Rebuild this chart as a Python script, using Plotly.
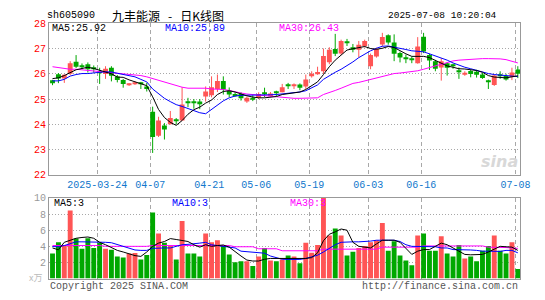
import plotly.graph_objects as go

# ---------------- data ----------------
dates = [
    "2025-03-12", "2025-03-13", "2025-03-14", "2025-03-17", "2025-03-18", "2025-03-19", "2025-03-20", "2025-03-21",
    "2025-03-24", "2025-03-25", "2025-03-26", "2025-03-27", "2025-03-28", "2025-03-31",
    "2025-04-01", "2025-04-02", "2025-04-03", "2025-04-07", "2025-04-08", "2025-04-09", "2025-04-10", "2025-04-11",
    "2025-04-14", "2025-04-15", "2025-04-16", "2025-04-17", "2025-04-18", "2025-04-21", "2025-04-22", "2025-04-23",
    "2025-04-24", "2025-04-25", "2025-04-28", "2025-04-29", "2025-04-30",
    "2025-05-06", "2025-05-07", "2025-05-08", "2025-05-09", "2025-05-12", "2025-05-13", "2025-05-14", "2025-05-15",
    "2025-05-16", "2025-05-19", "2025-05-20", "2025-05-21", "2025-05-22", "2025-05-23", "2025-05-26", "2025-05-27",
    "2025-05-28", "2025-05-29", "2025-05-30",
    "2025-06-03", "2025-06-04", "2025-06-05", "2025-06-06", "2025-06-09", "2025-06-10", "2025-06-11", "2025-06-12",
    "2025-06-13", "2025-06-16", "2025-06-17", "2025-06-18", "2025-06-19", "2025-06-20", "2025-06-23", "2025-06-24",
    "2025-06-25", "2025-06-26", "2025-06-27", "2025-06-30",
    "2025-07-01", "2025-07-02", "2025-07-03", "2025-07-04", "2025-07-07", "2025-07-08",
]

open_ = [25.74, 25.98, 25.81, 26.00, 26.48, 26.28, 26.38, 26.22, 26.05, 25.99,
         26.24, 25.89, 25.75, 25.56, 25.60, 25.64, 25.50, 24.50, 23.55, 23.95,
         24.00, 24.17, 24.15, 24.88, 24.88, 24.90, 25.10, 25.15, 25.40, 25.72,
         25.33, 25.20, 25.20, 24.90, 25.05, 25.05, 25.25, 25.15, 25.27, 25.27,
         25.55, 25.53, 25.58, 25.50, 25.90, 26.00, 26.10, 26.46, 26.98, 26.80,
         27.25, 27.05, 26.95, 27.10, 26.30, 26.68, 27.16, 27.52, 27.24, 26.82,
         26.64, 26.58, 26.42, 27.47, 26.74, 26.50, 26.25, 26.42, 26.33, 26.10,
         25.96, 26.11, 26.08, 25.97, 25.70, 25.56, 25.94, 25.91, 25.87, 26.17]
high_ = [25.76, 26.03, 25.98, 26.50, 26.74, 26.41, 26.45, 26.33, 26.24, 26.30,
         26.30, 25.95, 25.80, 25.63, 25.70, 25.68, 25.64, 24.70, 24.30, 24.05,
         24.53, 24.25, 25.47, 25.05, 25.00, 25.00, 25.50, 25.90, 25.97, 25.90,
         25.46, 25.27, 25.27, 25.10, 25.15, 25.27, 25.45, 25.28, 25.33, 25.60,
         25.64, 25.62, 25.62, 25.97, 26.10, 26.28, 27.00, 27.05, 27.58, 27.35,
         27.38, 27.18, 27.30, 27.35, 26.80, 27.03, 27.62, 27.56, 27.56, 26.88,
         26.76, 26.68, 27.45, 27.62, 26.80, 26.55, 26.62, 26.45, 26.40, 26.25,
         26.10, 26.16, 26.16, 26.03, 25.77, 25.97, 26.10, 26.00, 26.24, 26.30]
low_ = [25.55, 25.63, 25.64, 25.95, 26.23, 26.18, 26.05, 26.05, 25.60, 25.80,
        25.70, 25.66, 25.45, 25.52, 25.56, 25.40, 25.30, 22.87, 23.50, 23.40,
        24.00, 24.00, 24.15, 24.68, 24.62, 24.60, 24.90, 25.07, 25.28, 25.18,
        25.07, 25.10, 24.94, 24.85, 24.92, 25.00, 25.07, 25.10, 25.12, 25.27,
        25.40, 25.40, 25.35, 25.40, 25.85, 25.96, 26.00, 26.38, 26.70, 26.75,
        27.10, 26.85, 26.65, 27.04, 26.18, 26.64, 27.08, 27.15, 26.50, 26.45,
        26.42, 26.42, 26.40, 26.82, 26.15, 26.10, 25.73, 25.93, 26.20, 25.80,
        25.92, 25.86, 25.85, 25.80, 25.40, 25.52, 25.80, 25.73, 25.75, 25.83]
close_ = [25.63, 25.81, 25.96, 26.42, 26.28, 26.26, 26.18, 26.20, 26.03, 26.20,
          25.92, 25.75, 25.60, 25.62, 25.66, 25.62, 25.40, 23.50, 24.15, 23.80,
          24.25, 24.14, 24.79, 24.86, 24.86, 24.80, 25.30, 25.47, 25.72, 25.38,
          25.18, 25.14, 25.03, 25.05, 24.97, 25.20, 25.20, 25.22, 25.25, 25.47,
          25.53, 25.58, 25.45, 25.77, 26.00, 26.07, 26.70, 26.95, 26.79, 27.30,
          27.22, 26.95, 27.15, 27.30, 26.74, 26.98, 27.46, 27.24, 26.79, 26.64,
          26.58, 26.55, 27.08, 26.88, 26.53, 26.20, 26.50, 26.24, 26.30, 26.08,
          26.04, 25.99, 25.96, 25.83, 25.68, 25.93, 25.92, 25.77, 26.05, 26.00]

ma5 = [25.81, 25.84, 25.93, 26.06, 26.16, 26.21, 26.26, 26.21, 26.13, 26.08,
       26.00, 25.87, 25.86, 25.76, 25.69, 25.63, 25.53, 25.09, 24.59, 24.27,
       24.08, 23.96, 24.15, 24.40, 24.58, 24.68, 24.84, 24.96, 25.18, 25.30,
       25.33, 25.28, 25.20, 25.13, 25.08, 25.05, 25.05, 25.08, 25.10, 25.18,
       25.22, 25.25, 25.28, 25.38, 25.53, 25.68, 25.97, 26.28, 26.54, 26.76,
       26.94, 26.99, 27.04, 27.08, 27.00, 26.97, 27.01, 27.08, 27.04, 26.91,
       26.79, 26.69, 26.69, 26.69, 26.64, 26.54, 26.41, 26.31, 26.26, 26.20,
       26.19, 26.16, 26.13, 26.06, 25.93, 25.87, 25.84, 25.84, 25.88, 25.92]
ma10 = [25.72, 25.72, 25.78, 25.91, 25.97, 26.01, 26.01, 26.02, 26.06, 26.08,
        26.07, 26.02, 25.97, 25.93, 25.88, 25.78, 25.68, 25.40, 25.22, 25.03,
        24.90, 24.78, 24.71, 24.63, 24.53, 24.46, 24.42, 24.59, 24.78, 24.93,
        25.05, 25.12, 25.15, 25.15, 25.15, 25.15, 25.15, 25.17, 25.18, 25.20,
        25.23, 25.25, 25.28, 25.33, 25.43, 25.56, 25.78, 25.93, 26.06, 26.18,
        26.32, 26.47, 26.64, 26.79, 26.91, 27.01, 27.09, 27.10, 27.06, 27.01,
        26.96, 26.91, 26.89, 26.87, 26.79, 26.71, 26.64, 26.54, 26.43, 26.33,
        26.26, 26.20, 26.13, 26.07, 26.01, 25.97, 25.94, 25.93, 25.91, 25.89]
ma30 = [26.28, 26.25, 26.21, 26.18, 26.18, 26.16, 26.13, 26.11, 26.08, 26.07,
        26.06, 26.03, 26.01, 25.98, 25.96, 25.93, 25.88, 25.81, 25.74, 25.69,
        25.63, 25.56, 25.47, 25.43, 25.43, 25.43, 25.43, 25.40, 25.40, 25.38,
        25.34, 25.28, 25.24, 25.20, 25.18, 25.15, 25.13, 25.10, 25.08, 25.05,
        25.04, 25.03, 25.03, 25.03, 25.03, 25.05, 25.18, 25.25, 25.34, 25.43,
        25.53, 25.62, 25.66, 25.72, 25.78, 25.84, 25.91, 25.96, 26.01, 26.03,
        26.06, 26.08, 26.12, 26.18, 26.25, 26.31, 26.37, 26.43, 26.51, 26.54,
        26.56, 26.57, 26.59, 26.60, 26.60, 26.60, 26.59, 26.56, 26.51, 26.43]

volume = [3.10, 4.50, 4.05, 8.45, 4.96, 3.70, 5.00, 3.80, 4.44, 3.70,
          3.57, 2.74, 2.62, 3.10, 3.17, 2.38, 2.94, 8.20, 5.60, 4.44,
          4.05, 2.38, 7.14, 3.10, 3.10, 2.74, 5.60, 4.52, 4.76, 4.05,
          2.98, 2.02, 2.14, 2.14, 1.55, 2.74, 3.80, 2.26, 2.14, 2.38,
          2.86, 2.74, 1.90, 4.44, 3.20, 4.17, 10.5, 5.36, 6.20, 5.36,
          2.86, 3.33, 3.80, 4.05, 4.52, 4.76, 6.90, 3.45, 4.64, 2.86,
          2.26, 1.67, 5.36, 5.60, 3.45, 3.45, 5.24, 3.10, 2.74, 4.17,
          2.50, 2.74, 2.14, 3.45, 4.05, 5.36, 3.45, 3.10, 4.52, 1.19]
vol_ma5 = [3.80, 3.57, 4.50, 4.80, 5.00, 5.10, 5.16, 5.00, 4.50, 4.20,
           3.80, 3.50, 3.30, 3.10, 2.85, 2.75, 3.30, 4.00, 4.40, 4.60,
           4.96, 4.85, 4.75, 4.60, 4.20, 3.90, 4.20, 4.00, 4.10, 4.17,
           3.90, 3.30, 2.80, 2.30, 2.18, 2.18, 2.40, 2.50, 2.50, 2.50,
           2.48, 2.45, 2.43, 2.50, 2.60, 3.20, 4.70, 5.50, 5.80, 6.15,
           6.00, 4.50, 4.00, 3.90, 3.80, 4.30, 4.76, 4.76, 4.76, 4.50,
           3.80, 3.00, 3.40, 3.60, 3.60, 4.00, 4.40, 4.20, 3.80, 3.50,
           3.00, 2.95, 2.95, 3.00, 3.30, 3.70, 4.00, 3.95, 3.90, 3.50]
vol_ma10 = [3.97, 3.95, 4.10, 4.30, 4.56, 4.56, 4.56, 4.56, 4.56, 4.50,
            4.45, 4.20, 4.00, 3.80, 3.55, 3.50, 3.50, 3.75, 3.80, 3.80,
            3.80, 4.00, 4.20, 4.25, 4.29, 4.40, 4.50, 4.20, 4.10, 4.00,
            3.97, 3.80, 3.40, 3.35, 3.30, 3.20, 3.15, 2.80, 2.60, 2.40,
            2.38, 2.38, 2.38, 2.50, 2.70, 2.90, 3.30, 3.80, 4.20, 4.50,
            4.56, 4.56, 4.56, 4.56, 4.65, 4.76, 4.76, 4.76, 4.76, 4.60,
            4.20, 4.00, 3.97, 3.95, 3.95, 3.95, 3.80, 3.80, 3.60, 3.60,
            3.60, 3.55, 3.50, 3.40, 3.40, 3.37, 3.37, 3.50, 3.50, 3.20]
vol_ma30 = [4.10, 4.10, 4.10, 4.10, 4.10, 4.10, 4.10, 4.10, 4.10, 4.00,
            4.00, 4.00, 4.00, 4.00, 4.00, 4.00, 4.00, 4.10, 4.10, 4.10,
            4.10, 4.10, 4.10, 4.10, 4.10, 4.10, 4.10, 4.10, 4.10, 4.10,
            4.10, 3.95, 3.95, 3.95, 3.95, 3.70, 3.70, 3.70, 3.70, 3.45,
            3.45, 3.45, 3.45, 3.45, 3.45, 3.45, 3.65, 3.65, 3.65, 3.65,
            3.65, 3.65, 3.65, 3.65, 3.65, 3.65, 3.90, 3.90, 3.90, 3.90,
            3.90, 3.90, 3.90, 4.05, 4.05, 4.05, 4.05, 4.05, 4.05, 4.05,
            4.05, 4.05, 4.05, 4.05, 3.90, 3.90, 3.85, 3.85, 3.80, 3.75]

tick_dates = ["2025-03-24", "2025-04-07", "2025-04-21", "2025-05-06",
              "2025-05-19", "2025-06-03", "2025-06-16", "2025-07-08"]
tick_labels = ["2025-03-24", "04-07", "04-21", "05-06", "05-19", "06-03", "06-16", "07-08"]

# ---------------- styling ----------------
W, H = 545, 300
RED = "#FF5555"
GREEN = "#00A800"
MONO = "Liberation Mono, DejaVu Sans Mono, monospace"
CJK = "Noto Sans CJK SC, sans-serif"
GRID = "#A8A8A8"
FRAME = "#999999"

xs = list(range(len(dates)))
up = [c >= o for o, c in zip(open_, close_)]

fig = go.Figure()

# candle bodies (bars) and wicks
for flag, col in ((True, RED), (False, GREEN)):
    bx, bb, bh = [], [], []
    wx, wy = [], []
    for i in xs:
        if up[i] != flag:
            continue
        lo = min(open_[i], close_[i])
        hi = max(open_[i], close_[i])
        bx.append(i)
        bb.append(lo)
        bh.append(max(hi - lo, 0.04))
        wx += [i, i, None]
        wy += [low_[i], high_[i], None]
    fig.add_trace(go.Scatter(x=wx, y=wy, mode="lines", line=dict(color=col, width=1),
                             hoverinfo="skip", xaxis="x", yaxis="y"))
    fig.add_trace(go.Bar(x=bx, y=bh, base=bb, width=0.83, marker=dict(color=col, line=dict(width=0)),
                         xaxis="x", yaxis="y"))

for arr, col in ((ma30, "#FF00FF"), (ma10, "#0000FF"), (ma5, "#000000")):
    fig.add_trace(go.Scatter(x=xs, y=arr, mode="lines", line=dict(color=col, width=1),
                             xaxis="x", yaxis="y"))

# volume
for flag, col in ((True, RED), (False, GREEN)):
    vx = [i for i in xs if up[i] == flag]
    vy = [volume[i] for i in vx]
    fig.add_trace(go.Bar(x=vx, y=vy, width=0.83, marker=dict(color=col, line=dict(width=0)),
                         xaxis="x2", yaxis="y2"))
for arr, col in ((vol_ma30, "#FF00FF"), (vol_ma10, "#0000FF"), (vol_ma5, "#000000")):
    fig.add_trace(go.Scatter(x=xs, y=arr, mode="lines", line=dict(color=col, width=1),
                             xaxis="x2", yaxis="y2"))

tickpos = [dates.index(d) - 0.4 for d in tick_dates]
xdom = [50 / W, 530 / W]
shift = 1 / 12
xrange_ = [-0.5 - shift, len(dates) - 0.5 - shift]

common_x = dict(domain=xdom, range=xrange_, tickmode="array", tickvals=tickpos, ticks="",
                showgrid=True, gridcolor=GRID, gridwidth=1, griddash="4px,3px",
                showline=True, mirror=True, linecolor=FRAME, linewidth=1, zeroline=False)

fig.update_layout(
    width=W, height=H, margin=dict(l=0, r=0, t=0, b=0),
    paper_bgcolor="white", plot_bgcolor="white", showlegend=False, barmode="overlay",
    xaxis=dict(common_x, anchor="y", ticktext=tick_labels,
               tickfont=dict(family=MONO, size=10, color="#1177CC")),
    xaxis2=dict(common_x, anchor="y2", matches="x", showticklabels=False),
    yaxis=dict(domain=[(H - 177) / H, (H - 19) / H], range=[22, 28], tickvals=[22, 23, 24, 25, 26, 27, 28],
               ticks="", showgrid=True, gridcolor=GRID, griddash="1px,2px", zeroline=False,
               showline=True, mirror=True, linecolor=FRAME, anchor="x",
               tickfont=dict(family=MONO, size=10, color="#FF0000")),
    yaxis2=dict(domain=[(H - 285) / H, (H - 201) / H], range=[0, 10], tickvals=[2, 4, 6, 8, 10],
                ticks="", showgrid=True, gridcolor=GRID, griddash="1px,2px", zeroline=False,
                showline=True, mirror=True, linecolor=FRAME, anchor="x2",
                tickfont=dict(family=MONO, size=10, color="#999999")),
)


def ann(text, x, y, color="#000000", size=10, family=MONO, xanchor="left", **kw):
    fig.add_annotation(xref="paper", yref="paper", x=x / W, y=1 - y / H, text=text, showarrow=False,
                       xanchor=xanchor, yanchor="middle", font=dict(family=family, size=size, color=color),
                       borderpad=0, **kw)


NB = "\u00a0"
ann("sh605090", 47, 11, size=10)
ann("九丰能源" + NB * 3 + "-" + NB * 3 + "日K线图", 113, 11, size=12, family=CJK)
ann("2025-07-08 10:20:04", 507, 11, size=9.5, xanchor="right")
ann("MA5:" + f"{ma5[-1]:.2f}", 52, 24)
ann("MA10:" + f"{ma10[-1]:.2f}", 167, 24, color="#0000FF")
ann("MA30:" + f"{ma30[-1]:.2f}", 283, 24, color="#FF00FF")
ann("MA5:3", 54, 207)
ann("MA10:3", 174, 207, color="#0000FF")
ann("MA30:3", 294, 207, color="#FF00FF")
ann("Copyright 2025 SINA.COM", 50, 293, color="#555555")
ann("http://finance.sina.com.cn", 529, 293, color="#555555", xanchor="right")
ann("x万", 44, 284, color="#BBBBBB", size=9, family=CJK, xanchor="right")
ann("<i><b>sina</b></i>", 529, 163, color="#D8D8D8", size=16, family="DejaVu Sans", xanchor="right")

fig.write_html("out.html")
